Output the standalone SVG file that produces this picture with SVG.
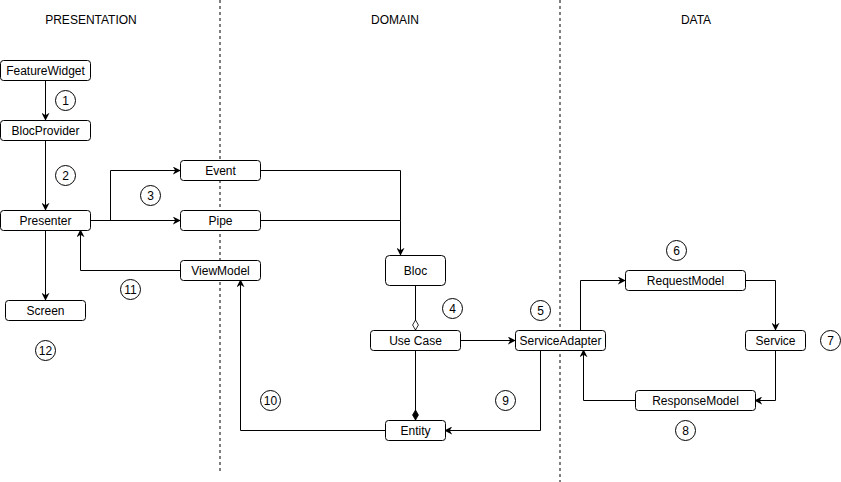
<svg xmlns="http://www.w3.org/2000/svg" width="841" height="482" viewBox="0 0 841 482">
<defs>
<style>
text{font-family:"Liberation Sans",Arial,sans-serif;font-size:12px;fill:#000;text-anchor:middle;dominant-baseline:central}
.node rect{fill:#fff;stroke:#000;stroke-width:1}
.num circle{fill:#fff;stroke:#000;stroke-width:1}
.conn path{fill:none;stroke:#000;stroke-width:1}
.arr{marker-end:url(#arrow)}
.lane{stroke:#000;stroke-width:1;stroke-dasharray:3 3}
</style>
<marker id="arrow" viewBox="0 0 10 10" refX="9" refY="5" markerWidth="8" markerHeight="8" markerUnits="userSpaceOnUse" orient="auto">
<path d="M0,0 L10,5 L0,10 L3,5 Z" fill="#000"/>
</marker>
<marker id="odiamond" viewBox="0 0 12 8" refX="12" refY="4" markerWidth="10" markerHeight="7" markerUnits="userSpaceOnUse" orient="auto">
<path d="M0,4 L6,0.5 L12,4 L6,7.5 Z" fill="#fff" stroke="#000" stroke-width="1"/>
</marker>
<marker id="fdiamond" viewBox="0 0 12 8" refX="12" refY="4" markerWidth="10" markerHeight="7" markerUnits="userSpaceOnUse" orient="auto">
<path d="M0,4 L6,0.5 L12,4 L6,7.5 Z" fill="#000" stroke="#000" stroke-width="1"/>
</marker>
</defs>
<rect width="841" height="482" fill="#fff"/>
<g id="lanes">
<line class="lane" x1="220" y1="0" x2="220" y2="471"/>
<line class="lane" x1="560" y1="0" x2="560" y2="482"/>
<text x="91" y="20">PRESENTATION</text>
<text x="395" y="20">DOMAIN</text>
<text x="696" y="20">DATA</text>
</g>
<g class="conn" id="connectors">
<path class="arr" d="M45.5,80 L45.5,120"/>
<path class="arr" d="M45.5,140 L45.5,210"/>
<path class="arr" d="M90,220.5 L180,220.5"/>
<path class="arr" d="M110.5,220.5 L110.5,170.5 L180,170.5"/>
<path d="M260,170.5 L400.5,170.5 L400.5,220.5"/>
<path class="arr" d="M260,220.5 L400.5,220.5 L400.5,255"/>
<path class="arr" d="M180,270.5 L80.5,270.5 L80.5,230"/>
<path class="arr" d="M45.5,230 L45.5,300"/>
<path marker-end="url(#odiamond)" d="M415.5,285 L415.5,330"/>
<path marker-end="url(#fdiamond)" d="M415.5,350 L415.5,420"/>
<path class="arr" d="M460,340.5 L515,340.5"/>
<path class="arr" d="M540.5,350 L540.5,430.5 L445,430.5"/>
<path class="arr" d="M385,430.5 L240.5,430.5 L240.5,280"/>
<path class="arr" d="M580.5,330 L580.5,280.5 L625,280.5"/>
<path class="arr" d="M745,280.5 L775.5,280.5 L775.5,330"/>
<path class="arr" d="M775.5,350 L775.5,400.5 L755,400.5"/>
<path class="arr" d="M635,400.5 L583.5,400.5 L583.5,350"/>
</g>
<g class="node" id="featurewidget"><rect x="0.5" y="60.5" width="90" height="20" rx="3"/><text x="45.5" y="70.5">FeatureWidget</text></g>
<g class="node" id="blocprovider"><rect x="0.5" y="120.5" width="90" height="20" rx="3"/><text x="45.5" y="130.5">BlocProvider</text></g>
<g class="node" id="presenter"><rect x="0.5" y="210.5" width="90" height="20" rx="3"/><text x="45.5" y="220.5">Presenter</text></g>
<g class="node" id="screen"><rect x="5.5" y="300.5" width="80" height="20" rx="3"/><text x="45.5" y="310.5">Screen</text></g>
<g class="node" id="event"><rect x="180.5" y="160.5" width="80" height="20" rx="3"/><text x="220.5" y="170.5">Event</text></g>
<g class="node" id="pipe"><rect x="180.5" y="210.5" width="80" height="20" rx="3"/><text x="220.5" y="220.5">Pipe</text></g>
<g class="node" id="viewmodel"><rect x="180.5" y="260.5" width="80" height="20" rx="3"/><text x="220.5" y="270.5">ViewModel</text></g>
<g class="node" id="bloc"><rect x="385.5" y="255.5" width="60" height="30" rx="4"/><text x="415.5" y="270.5">Bloc</text></g>
<g class="node" id="usecase"><rect x="370.5" y="330.5" width="90" height="20" rx="3"/><text x="415.5" y="340.5">Use Case</text></g>
<g class="node" id="entity"><rect x="385.5" y="420.5" width="60" height="20" rx="3"/><text x="415.5" y="430.5">Entity</text></g>
<g class="node" id="serviceadapter"><rect x="515.5" y="330.5" width="90" height="20" rx="3"/><text x="560.5" y="340.5">ServiceAdapter</text></g>
<g class="node" id="requestmodel"><rect x="625.5" y="270.5" width="120" height="20" rx="3"/><text x="685.5" y="280.5">RequestModel</text></g>
<g class="node" id="service"><rect x="745.5" y="330.5" width="60" height="20" rx="3"/><text x="775.5" y="340.5">Service</text></g>
<g class="node" id="responsemodel"><rect x="635.5" y="390.5" width="120" height="20" rx="3"/><text x="695.5" y="400.5">ResponseModel</text></g>
<g class="num" id="steps">
<g id="n1"><circle cx="65.5" cy="100.5" r="10"/><text x="65.5" y="100.5">1</text></g>
<g id="n2"><circle cx="65.5" cy="175.5" r="10"/><text x="65.5" y="175.5">2</text></g>
<g id="n3"><circle cx="150.5" cy="195.5" r="10"/><text x="150.5" y="195.5">3</text></g>
<g id="n4"><circle cx="452.5" cy="308.5" r="10"/><text x="452.5" y="308.5">4</text></g>
<g id="n5"><circle cx="540.5" cy="310.5" r="10"/><text x="540.5" y="310.5">5</text></g>
<g id="n6"><circle cx="676.5" cy="250.5" r="10"/><text x="676.5" y="250.5">6</text></g>
<g id="n7"><circle cx="830.5" cy="340.5" r="10"/><text x="830.5" y="340.5">7</text></g>
<g id="n8"><circle cx="685.5" cy="430.5" r="10"/><text x="685.5" y="430.5">8</text></g>
<g id="n9"><circle cx="505.5" cy="400.5" r="10"/><text x="505.5" y="400.5">9</text></g>
<g id="n10"><circle cx="270.5" cy="400.5" r="10"/><text x="270.5" y="400.5">10</text></g>
<g id="n11"><circle cx="130.5" cy="289.5" r="10"/><text x="130.5" y="289.5">11</text></g>
<g id="n12"><circle cx="45.5" cy="350.5" r="10"/><text x="45.5" y="350.5">12</text></g>
</g>
</svg>
